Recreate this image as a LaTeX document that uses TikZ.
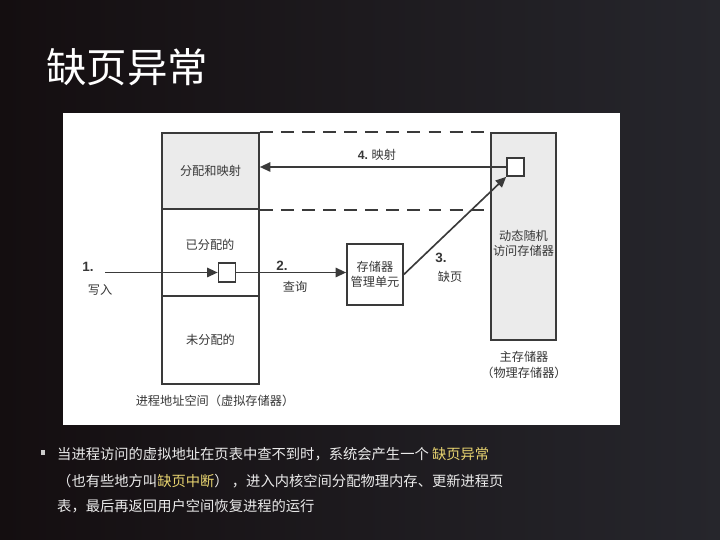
\documentclass[tikz,border=0pt]{standalone}
\usepackage{fontspec}
\setmainfont{Noto Sans CJK SC}
\newfontfamily\numfont{Liberation Sans}
\usetikzlibrary{positioning,arrows.meta}
\definecolor{slidebg}{RGB}{20,14,16}
\definecolor{slidebgr}{RGB}{38,38,44}
\definecolor{boxline}{RGB}{58,58,58}
\definecolor{boxgrey}{RGB}{235,235,235}
\definecolor{inktext}{RGB}{55,55,55}
\definecolor{hilite}{RGB}{232,212,112}
\newcommand\hl[1]{\textcolor{hilite}{#1}}
\tikzset{
  region/.style={draw=boxline, line width=1.4pt, inner sep=0pt, text=inktext,
    font=\fontsize{10.4}{13}\selectfont, align=center},
  tag/.style={text=inktext, inner sep=0pt, font=\fontsize{10.4}{13}\selectfont, align=center},
  stepno/.style={text=inktext, inner sep=0pt, font=\numfont\bfseries\fontsize{11.5}{12}\selectfont},
  flow/.style={draw=boxline, line width=1.4pt, -{Triangle[length=9pt,width=8pt]}},
  gap/.style={draw=boxline, line width=1.5pt, dash pattern=on 11pt off 7pt},
  bodytext/.style={text=white!92!black, inner sep=0pt, anchor=west, font=\fontsize{12.2}{14}\selectfont}
}
\begin{document}
\begin{tikzpicture}[x=0.03cm, y=-0.03cm]
  \useasboundingbox (0,0) rectangle (720,540);
  \shade[left color=slidebg, right color=slidebgr] (0,0) rectangle (720,540);
  \node[text=white, inner sep=0pt, anchor=west, font=\fontsize{34.5}{36}\selectfont] (title) at (46,67) {缺页异常};
  \fill[white] (63,113) rectangle (620,425);

  % process address space
  \node[region, fill=boxgrey, minimum width={97*0.03cm}, minimum height={76*0.03cm}] (mapped) at (210.5,171) {分配和映射};
  \node[region, minimum width={97*0.03cm}, minimum height={87*0.03cm}] (alloc) at (210.5,252.5) {};
  \node[region, minimum width={97*0.03cm}, minimum height={88*0.03cm}] (unalloc) at (210.5,340) {未分配的};
  \node[tag] (alloctext) at (210,245) {已分配的};
  \node[region, fill=white, minimum width={17*0.03cm}, minimum height={19*0.03cm}] (cell) at (227,272.5) {};
  \node[tag] (vascap) at (215,401) {进程地址空间（虚拟存储器）};

  % mmu and main memory
  \node[region, minimum width={56*0.03cm}, minimum height={61*0.03cm}] (mmu) at (375,274.5) {存储器\\管理单元};
  \node[region, fill=boxgrey, minimum width={65*0.03cm}, minimum height={207*0.03cm}] (dram) at (523.5,236.5) {};
  \node[tag] (dramtext) at (523.5,243) {动态随机\\访问存储器};
  \node[region, fill=white, minimum width={17*0.03cm}, minimum height={18*0.03cm}] (page) at (515.5,167) {};
  \node[tag] (ramcap) at (524,365) {主存储器\\（物理存储器）};

  \foreach \c in {north east,south east}
    \draw[gap] (mapped.\c) -- (mapped.\c -| dram.west);

  % steps
  \coordinate (src) at (105,272.5);
  \draw[flow] (src) -- (cell.west);
  \draw[flow] (cell.east) -- (cell.east -| mmu.west);
  \draw[flow] (mmu.east) -- (page.south west);
  \draw[flow] (page.west) -- (page.west -| mapped.east);

  \node[stepno] (s1) at (88,267) {1.};
  \node[tag] (s1t) at (100,290) {写入};
  \node[stepno] (s2) at (282,266) {2.};
  \node[tag] (s2t) at (295,287) {查询};
  \node[stepno] (s3) at (441,258) {3.};
  \node[tag] (s3t) at (450,277) {缺页};
  \node[tag] (s4t) at (377,155) {{\numfont\bfseries 4.} 映射};

  % bullet
  \fill[white!80!black] (41,450) rectangle (45,455);
  \node[bodytext] (line1) at (57,454) {当进程访问的虚拟地址在页表中查不到时，系统会产生一个 \hl{缺页异常}};
  \node[bodytext] (line2) at (57,481) {（也有些地方叫\hl{缺页中断}） ，进入内核空间分配物理内存、更新进程页};
  \node[bodytext] (line3) at (57,506) {表，最后再返回用户空间恢复进程的运行};
\end{tikzpicture}
\end{document}
